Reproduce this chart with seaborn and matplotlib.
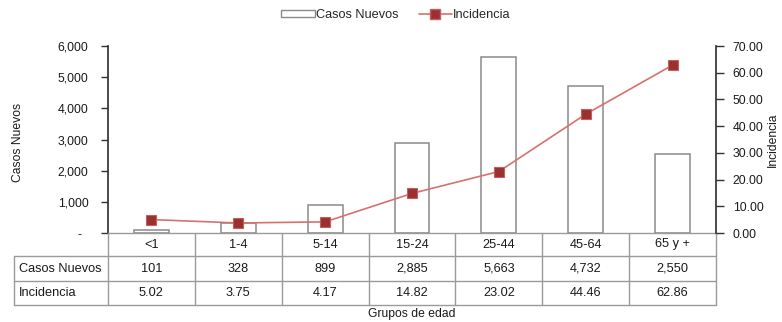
import numpy as np
import pandas as pd
import seaborn as sns
import matplotlib
matplotlib.use("Agg")
import matplotlib.pyplot as plt
from matplotlib import font_manager
from matplotlib.patches import Patch
from matplotlib.lines import Line2D
from matplotlib.transforms import blended_transform_factory

# Data
grupos = ["<1", "1-4", "5-14", "15-24", "25-44", "45-64", "65 y +"]
casos_nuevos = [101, 328, 899, 2885, 5663, 4732, 2550]
incidencia = [5.02, 3.75, 4.17, 14.82, 23.02, 44.46, 62.86]
casos_ticks = [0, 1000, 2000, 3000, 4000, 5000, 6000]
inc_ticks = [0, 10, 20, 30, 40, 50, 60, 70]

df = pd.DataFrame({"grupo": grupos, "casos": casos_nuevos, "inc": incidencia})

sns.set_theme(style="white")
names = {f.name for f in font_manager.fontManager.ttflist}
narrow = "Liberation Sans Narrow" if "Liberation Sans Narrow" in names else "Liberation Sans"
narrow_size = 10.5 if narrow == "Liberation Sans Narrow" else 9.2
plt.rcParams["font.family"] = ["Liberation Sans", "DejaVu Sans"]

W, H = 782, 322
fig = plt.figure(figsize=(W / 100, H / 100), dpi=100)
ax_l, ax_r, ax_t, ax_b = 108, 716, 46, 233
ax = fig.add_axes([ax_l / W, 1 - ax_b / H, (ax_r - ax_l) / W, (ax_b - ax_t) / H])
ax_h = ax_b - ax_t

bar_edge = "#8a8a8a"
grid_col = "#9a9a9a"
line_col = "#d9706f"
mark_col = "#9b3030"
text_col = "#1a1a1a"

# Bars: new cases
sns.barplot(data=df, x="grupo", y="casos", ax=ax, color="white",
            edgecolor=bar_edge, linewidth=1.1, width=0.4, saturation=1)
ax.set_ylim(0, 6000)
ax.set_yticks(casos_ticks)
ax.set_yticklabels(["-  " if v == 0 else f"{v:,.0f}" for v in casos_ticks])
ax.set_xlim(-0.5, len(grupos) - 0.5)
ax.set_xlabel("")
ax.set_ylabel("")
ax.tick_params(axis="x", length=0, labelbottom=False)
ax.tick_params(axis="y", left=True, length=5, width=1, color="#333333",
               pad=9, labelsize=8.8, labelcolor=text_col)
for s in ["top", "right"]:
    ax.spines[s].set_visible(False)
ax.spines["left"].set_color("#333333")
ax.spines["bottom"].set_color(grid_col)
ax.spines["bottom"].set_linewidth(1)

# Line: incidence on secondary axis
ax2 = ax.twinx()
sns.pointplot(data=df, x="grupo", y="inc", ax=ax2, color=line_col,
              markers="s", markersize=7, linewidth=1.2)
for ln in ax2.lines:
    ln.set_markerfacecolor(mark_col)
    ln.set_markeredgecolor("#c26060")
    ln.set_markeredgewidth(0.8)
ax2.set_ylim(0, 70)
ax2.set_yticks(inc_ticks)
ax2.set_yticklabels([f"{v:.2f}" for v in inc_ticks])
ax2.set_xlim(-0.5, len(grupos) - 0.5)
ax2.set_ylabel("")
ax2.set_xlabel("")
ax2.tick_params(axis="y", right=True, length=6, width=1, color="#333333",
                pad=6, labelsize=8.8, labelcolor=text_col)
for s in ["top", "left", "bottom"]:
    ax2.spines[s].set_visible(False)
ax2.spines["right"].set_color("#333333")

# Data table under the plot
tr = blended_transform_factory(ax.transData, ax.transAxes)
n = len(grupos)
x_left = -0.5 - (ax_l - 14) / ((ax_r - ax_l) / n)
rows_px = [0, -23, -48, -72]
ry = [p / ax_h for p in rows_px]
lkw = dict(color=grid_col, lw=1, transform=tr, clip_on=False)
for y in ry[1:]:
    ax.add_line(Line2D([x_left, n - 0.5], [y, y], **lkw))
ax.add_line(Line2D([x_left, x_left], [ry[1], ry[3]], **lkw))
for k in range(n + 1):
    xk = k - 0.5
    ax.add_line(Line2D([xk, xk], [ry[0], ry[3]], **lkw))

tkw = dict(transform=tr, clip_on=False, va="center", color=text_col,
           family=[narrow, "DejaVu Sans"], fontsize=narrow_size)
yc = [(ry[i] + ry[i + 1]) / 2 for i in range(3)]
for k, g in enumerate(grupos):
    ax.text(k, yc[0], g, ha="center", **tkw)
    ax.text(k, yc[1], f"{casos_nuevos[k]:,}", ha="center", **tkw)
    ax.text(k, yc[2], f"{incidencia[k]:.2f}", ha="center", **tkw)
pad = 5 / ((ax_r - ax_l) / n)
ax.text(x_left + pad, yc[1], "Casos Nuevos", ha="left", **tkw)
ax.text(x_left + pad, yc[2], "Incidencia", ha="left", **tkw)

# Axis titles
lab = dict(color=text_col, family=[narrow, "DejaVu Sans"], fontsize=narrow_size - 0.5)
ax.text(0.5, -81 / ax_h, "Grupos de edad", transform=ax.transAxes,
        ha="center", va="center", **lab)
fig.text(18 / W, 1 - 142 / H, "Casos Nuevos", rotation=90,
         ha="center", va="center", **lab)
fig.text(773 / W, 1 - 140 / H, "Incidencia", rotation=90,
         ha="center", va="center", **lab)

# Legend
handles = [
    Patch(facecolor="white", edgecolor=bar_edge, linewidth=1, label="Casos Nuevos"),
    Line2D([0], [0], color=line_col, lw=1.2, marker="s", markersize=7,
           markerfacecolor=mark_col, markeredgecolor="#c26060", label="Incidencia"),
]
fig.legend(handles=handles, loc="center", bbox_to_anchor=(396 / W, 1 - 15 / H),
           ncol=2, frameon=False, handlelength=2.6, handleheight=0.5,
           handletextpad=0.1, columnspacing=1.6,
           prop={"family": [narrow, "DejaVu Sans"], "size": narrow_size})

fig.savefig("out.png", dpi=100, facecolor="white")
